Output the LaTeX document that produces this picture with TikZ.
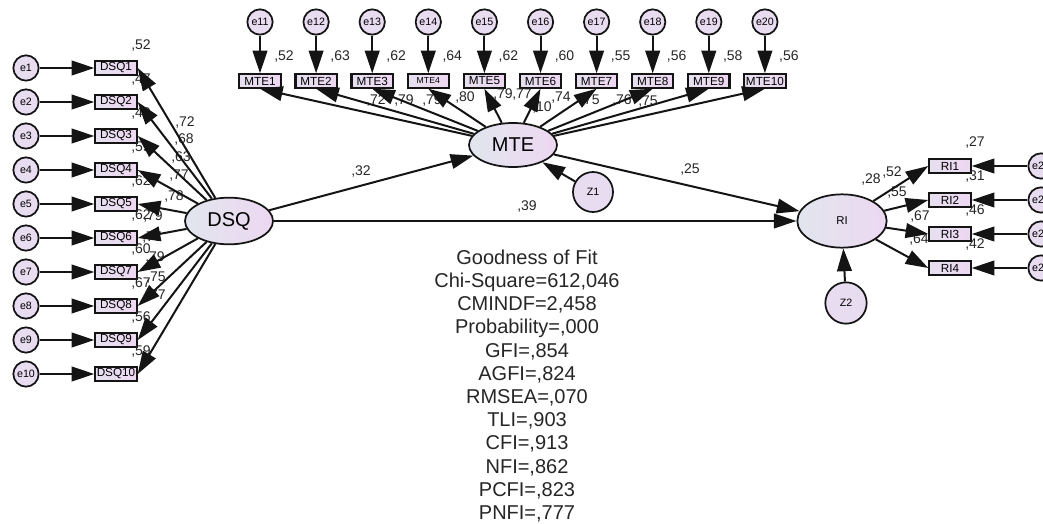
\documentclass[tikz,border=0pt]{standalone}
\usepackage{fontspec}
\setmainfont{Liberation Sans}
\usetikzlibrary{shapes.geometric,arrows.meta}

\definecolor{fillL}{HTML}{E1E5EE}
\definecolor{fillR}{HTML}{EDD8F1}
\definecolor{circfill}{HTML}{E8DCF0}
\definecolor{edge}{HTML}{141414}

\tikzset{
  obsbox/.style={rectangle, draw=edge, line width=1.6pt, left color=fillL!60!fillR, right color=fillR,
    minimum width=31pt, minimum height=11pt, inner sep=0pt, font=\fontsize{8.8}{9}\selectfont},
  errc/.style={circle, draw=edge, line width=1.3pt, fill=circfill, minimum size=19pt, inner sep=0pt,
    font=\fontsize{8}{9}\selectfont},
  latent/.style={ellipse, draw=edge, line width=1.3pt, left color=fillL, right color=fillR, inner sep=0pt},
  regpath/.style={draw=edge, line width=1.5pt, -{Triangle[length=17pt,width=11pt]}},
  coef/.style={font=\fontsize{10.5}{12}\selectfont, text=black!85, inner sep=0pt},
}

\begin{document}
\begin{tikzpicture}[x=0.75pt,y=-0.75pt]
\clip (0,0) rectangle (1043,524);
\fill[white] (0,0) rectangle (1043,524);

% ---------- DSQ measurement block ----------
\foreach \i in {1,...,10} {
  \pgfmathsetmacro\yy{68+34*(\i-1)}
  \node[errc] (e\i) at (26,\yy) {e\i};
  \node[obsbox] (dsq\i) at (116,\yy) {DSQ\i};
}

% ---------- MTE measurement block ----------
\foreach \i/\lab in {1/MTE1,2/MTE2,3/MTE3,4/{\fontsize{6.5}{7}\selectfont MTE4},5/MTE5,
                     6/MTE6,7/MTE7,8/MTE8,9/MTE9,10/MTE10} {
  \pgfmathsetmacro\xx{260+56.1*(\i-1)}
  \pgfmathtruncatemacro\j{\i+10}
  \node[errc] (e\j) at (\xx,22) {e\j};
  \node[obsbox, minimum height=10pt] (mte\i) at (\xx,81) {\lab};
}

% ---------- RI measurement block ----------
\foreach \k in {1,...,4} {
  \pgfmathsetmacro\yy{166+34*(\k-1)}
  \pgfmathtruncatemacro\j{\k+20}
  \node[errc] (e\j) at (1041,\yy) {e\j};
  \node[obsbox] (ri\k) at (950,\yy) {RI\k};
}

% ---------- latent variables and disturbances ----------
\node[latent, minimum width=66pt, minimum height=35pt, font=\fontsize{15}{16}\selectfont] (dsq) at (229,221) {DSQ};
\node[latent, minimum width=66pt, minimum height=33pt, font=\fontsize{15}{16}\selectfont] (mte) at (513,145) {MTE};
\node[latent, minimum width=67pt, minimum height=40pt, font=\fontsize{8.5}{9}\selectfont] (ri) at (842,221) {RI};
\node[errc, minimum size=30pt] (z1) at (593,192) {Z1};
\node[errc, minimum size=31pt] (z2) at (846,303) {Z2};

% ---------- coefficients ----------
% squared multiple correlations of DSQ items
\foreach \i/\v in {1/52,2/47,3/40,4/59,5/62,6/62,7/60,8/67,9/56,10/59} {
  \pgfmathsetmacro\yy{68+34*(\i-1)-22}
  \node[coef, anchor=west] at (131,\yy) {,\v};
}
% DSQ loadings
\foreach \p/\v in {{(185,123)}/72,{(184,140)}/68,{(181,158)}/63,{(179,176)}/77,{(174,197)}/78,
                   {(153,217)}/79,{(152,238)}/77,{(155,258)}/79,{(156,278)}/75,{(156,296)}/77} {
  \node[coef] at \p {,\v};
}
% squared multiple correlations of MTE items
\foreach \i/\v in {1/52,2/63,3/62,4/64,5/62,6/60,7/55,8/56,9/58,10/56} {
  \pgfmathsetmacro\xx{260+56.1*(\i-1)+14}
  \node[coef, anchor=west] at (\xx,57) {,\v};
}
% MTE loadings
\foreach \p/\v in {{(376,101)}/72,{(404,101)}/79,{(432,101)}/79,{(465,98)}/80,{(503,95)}/79,
                   {(522,95)}/77,{(561,98)}/74,{(590,101)}/75,{(622,101)}/76,{(648,102)}/75} {
  \node[coef] at \p {,\v};
}
\node[coef] at (542,108) {,10};
% RI items
\foreach \k/\v in {1/27,2/31,3/46,4/42} {
  \pgfmathsetmacro\yy{166+34*(\k-1)-23}
  \node[coef, anchor=west] at (965,\yy) {,\v};
}
\foreach \p/\v in {{(892,173)}/52,{(897,193)}/55,{(920,217)}/67,{(919,240)}/64} {
  \node[coef] at \p {,\v};
}
\node[coef] at (871,180) {,28};
% structural paths
\node[coef] at (361,172) {,32};
\node[coef] at (690,170) {,25};
\node[coef] at (527,207) {,39};

% ---------- paths ----------
\foreach \i in {1,...,10} {
  \draw[regpath] (e\i) -- (dsq\i);
  \draw[regpath] (dsq) -- (dsq\i.east);
}
\foreach \i in {1,...,10} {
  \pgfmathtruncatemacro\j{\i+10}
  \draw[regpath] (e\j) -- (mte\i);
  \draw[regpath] (mte) -- (mte\i.south);
}
\foreach \k in {1,...,4} {
  \pgfmathtruncatemacro\j{\k+20}
  \draw[regpath] (e\j) -- (ri\k);
  \draw[regpath] (ri) -- (ri\k.west);
}
\draw[regpath] (dsq) -- (mte);
\draw[regpath] (mte) -- (ri);
\draw[regpath] (dsq) -- (ri);
\draw[regpath] (z1) -- (mte);
\draw[regpath] (z2) -- (ri);

% ---------- fit summary ----------
\node[align=center, inner sep=0pt, font=\fontsize{15}{17.4}\selectfont, text=black!85] (fit) at (527,386) {%
  Goodness of Fit\\
  Chi-Square=612,046\\
  CMINDF=2,458\\
  Probability=,000\\
  GFI=,854\\
  AGFI=,824\\
  RMSEA=,070\\
  TLI=,903\\
  CFI=,913\\
  NFI=,862\\
  PCFI=,823\\
  PNFI=,777};
\end{tikzpicture}
\end{document}
